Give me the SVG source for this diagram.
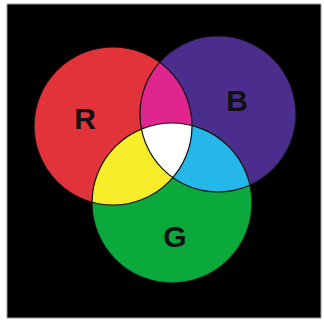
<svg xmlns="http://www.w3.org/2000/svg" width="324" height="320" viewBox="0 0 324 320">
  <style>
    .lbl { font-family: "Liberation Sans", Arial, sans-serif; font-weight: bold; font-size: 30px; fill: #111; text-anchor: middle; }
    .edge { fill: none; stroke: #111; stroke-width: 1.2; }
  </style>
  <defs>
    <clipPath id="cR"><circle cx="113" cy="126" r="79"/></clipPath>
    <clipPath id="cB"><circle cx="218" cy="114" r="78"/></clipPath>
    <clipPath id="cG"><circle cx="172" cy="203" r="80"/></clipPath>
  </defs>
  <rect x="0" y="0" width="324" height="320" fill="#ffffff"/>
  <rect x="7" y="4" width="314" height="314" fill="#000000" stroke="#9a9a9a" stroke-width="1"/>

  <g id="node-R">
    <circle cx="113" cy="126" r="79" fill="#E2323A"/>
  </g>
  <g id="node-B">
    <circle cx="218" cy="114" r="78" fill="#4A2D8C"/>
  </g>
  <g id="node-G">
    <circle cx="172" cy="203" r="80" fill="#0BA83C"/>
  </g>

  <g id="overlaps">
    <g id="magenta" clip-path="url(#cR)"><circle cx="218" cy="114" r="78" fill="#E0268E"/></g>
    <g id="yellow" clip-path="url(#cR)"><circle cx="172" cy="203" r="80" fill="#F6EC2A"/></g>
    <g id="cyan" clip-path="url(#cB)"><circle cx="172" cy="203" r="80" fill="#25B6EA"/></g>
    <g id="white" clip-path="url(#cR)"><g clip-path="url(#cB)"><circle cx="172" cy="203" r="80" fill="#FFFFFF"/></g></g>
  </g>

  <g id="outlines">
    <circle class="edge" cx="113" cy="126" r="79"/>
    <circle class="edge" cx="218" cy="114" r="78"/>
    <circle class="edge" cx="172" cy="203" r="80"/>
  </g>

  <g id="labels">
    <text class="lbl" x="85" y="129">R</text>
    <text class="lbl" x="237" y="111">B</text>
    <text class="lbl" x="175" y="247">G</text>
  </g>
  <g id="connectors"/>
</svg>
